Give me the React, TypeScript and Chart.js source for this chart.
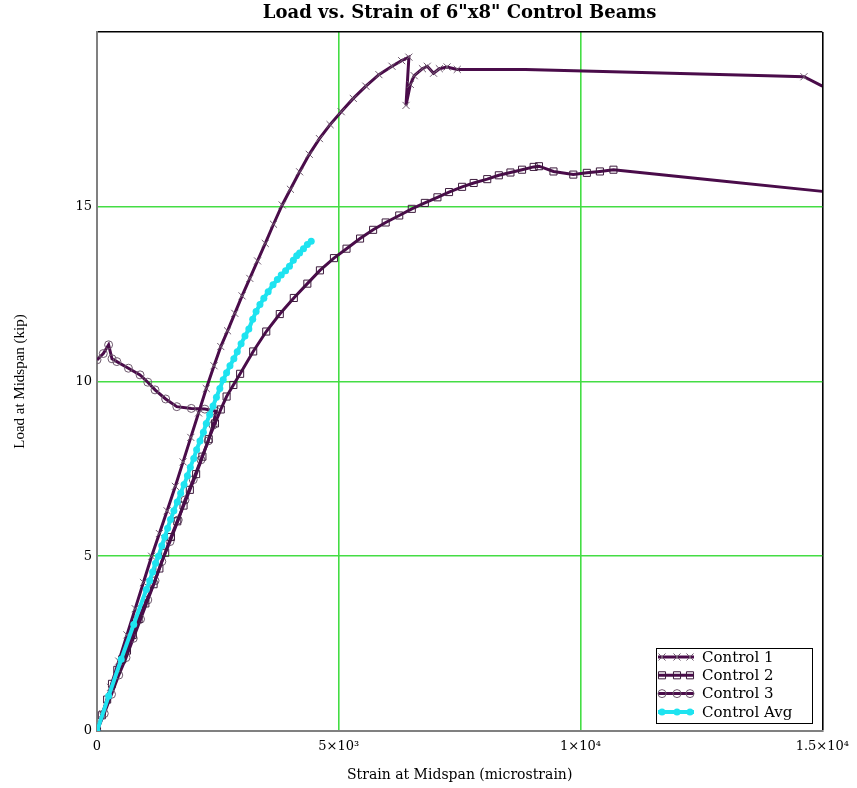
import React, { useEffect, useRef } from 'react';
import { Chart, registerables } from 'chart.js';
import { drawPoint } from 'chart.js/helpers';

Chart.register(...registerables);

const TITLE = 'Load vs. Strain of 6"x8" Control Beams';
const X_LABEL = 'Strain at Midspan (microstrain)';
const Y_LABEL = 'Load at Midspan (kip)';
const X_TICK_VALUES = [0, 5000, 10000, 15000];
const X_TICK_LABELS = ['0', '5×10³', '1×10⁴', '1.5×10⁴'];
const Y_TICK_VALUES = [0, 5, 10, 15, 20];
const Y_TICK_LABELS = ['0', '5', '10', '15', ''];

const SERIES_LABELS = ['Control 1', 'Control 2', 'Control 3', 'Control Avg'];

// Control 1 (strain in microstrain, load in kip)
const c1Strain = [0, 120, 280, 450, 620, 790, 960, 1130, 1290, 1450, 1620, 1780, 1940, 2100, 2260, 2420, 2560, 2700, 2850, 3000, 3160, 3320, 3480, 3650, 3830, 4000, 4190, 4390, 4600, 4820, 5050, 5300, 5560, 5830, 6100, 6300, 6450, 6390, 6480, 6560, 6730, 6830, 6960, 7080, 7240, 7450, 8860, 13870, 14620, 15000];
const c1Load = [0, 0.5, 1.25, 2.0, 2.75, 3.5, 4.25, 5.0, 5.65, 6.3, 7.0, 7.7, 8.4, 9.1, 9.8, 10.45, 11.0, 11.45, 11.95, 12.45, 12.95, 13.45, 13.95, 14.5, 15.05, 15.5, 16.0, 16.5, 16.95, 17.35, 17.72, 18.1, 18.45, 18.78, 19.02, 19.18, 19.28, 17.9, 18.5, 18.75, 18.95, 19.02, 18.82, 18.95, 19.0, 18.93, 18.93, 18.75, 18.72, 18.45];
// markers are shown only where the original plot shows them
const c1Marked = c1Strain.map((s) => s !== 8860 && s !== 13870 && s !== 15000);

// Control 2
const c2Strain = [0, 100, 210, 310, 420, 520, 620, 740, 860, 1000, 1170, 1290, 1410, 1530, 1660, 1790, 1920, 2050, 2180, 2310, 2440, 2560, 2680, 2820, 2960, 3230, 3500, 3780, 4070, 4350, 4610, 4900, 5160, 5440, 5710, 5970, 6250, 6510, 6780, 7040, 7280, 7550, 7790, 8070, 8310, 8550, 8790, 9030, 9140, 9440, 9850, 10130, 10400, 10680, 12570, 15000];
const c2Load = [0, 0.45, 0.9, 1.35, 1.75, 2.05, 2.3, 2.75, 3.2, 3.65, 4.2, 4.65, 5.1, 5.55, 6.0, 6.45, 6.9, 7.35, 7.85, 8.35, 8.8, 9.2, 9.57, 9.9, 10.22, 10.86, 11.43, 11.93, 12.39, 12.8, 13.18, 13.53, 13.8, 14.09, 14.34, 14.55, 14.75, 14.94, 15.11, 15.27, 15.42, 15.57, 15.68, 15.79, 15.9, 15.98, 16.06, 16.14, 16.16, 16.01, 15.92, 15.97, 16.01, 16.06, 15.79, 15.44];
const c2Marked = c2Strain.map((s) => s !== 12570 && s !== 15000);

// Control 3 (strain reading reverses after ~9.2 kip)
const c3Strain = [0, 150, 300, 450, 600, 750, 900, 1050, 1200, 1340, 1510, 1680, 1820, 1990, 2150, 2300, 2400, 2460, 2230, 1950, 1650, 1420, 1200, 1050, 890, 650, 410, 310, 240, 130, 0];
const c3Load = [0, 0.5, 1.05, 1.6, 2.1, 2.65, 3.2, 3.75, 4.3, 4.85, 5.42, 6.04, 6.61, 7.19, 7.76, 8.3, 8.75, 9.15, 9.21, 9.23, 9.28, 9.5, 9.76, 9.98, 10.19, 10.38, 10.57, 10.65, 11.05, 10.8, 10.62];

// Control Avg
const avgStrain = [0, 240, 500, 760, 1020, 1090, 1150, 1210, 1270, 1340, 1400, 1460, 1520, 1590, 1660, 1730, 1800, 1870, 1930, 2000, 2060, 2130, 2200, 2260, 2330, 2400, 2470, 2540, 2610, 2680, 2750, 2830, 2900, 2980, 3060, 3140, 3220, 3290, 3370, 3450, 3540, 3640, 3730, 3810, 3900, 3980, 4060, 4130, 4190, 4270, 4350, 4430];
const avgLoad = [0, 1.0, 2.05, 3.05, 4.05, 4.3, 4.55, 4.8, 5.0, 5.3, 5.55, 5.8, 6.05, 6.3, 6.55, 6.8, 7.05, 7.3, 7.55, 7.8, 8.05, 8.3, 8.55, 8.8, 9.05, 9.3, 9.55, 9.8, 10.05, 10.25, 10.45, 10.65, 10.85, 11.08, 11.3, 11.5, 11.78, 12.0, 12.2, 12.38, 12.57, 12.77, 12.92, 13.05, 13.17, 13.3, 13.47, 13.6, 13.68, 13.8, 13.92, 14.01];

const PURPLE = '#4a0c4a';
const MARK = '#6e5a6e';
const CYAN = '#1ee3f0';
const GREEN = '#44dd44';

const toPts = (xs: number[], ys: number[]) => xs.map((x, i) => ({ x, y: ys[i] }));

const boxLegend = {
  id: 'boxLegend',
  afterDraw(chart: any) {
    const ctx = chart.ctx as CanvasRenderingContext2D;
    const L = 656, T = 648, W = 156, H = 75;
    ctx.save();
    ctx.fillStyle = '#ffffff';
    ctx.fillRect(L, T, W, H);
    ctx.strokeStyle = '#000000';
    ctx.lineWidth = 1;
    ctx.strokeRect(L + 0.5, T + 0.5, W, H);
    chart.data.datasets.forEach((ds: any, i: number) => {
      const y = T + 9 + i * 18.3;
      ctx.strokeStyle = ds.borderColor;
      ctx.lineWidth = ds.borderWidth;
      ctx.beginPath();
      ctx.moveTo(L + 2, y);
      ctx.lineTo(L + 38, y);
      ctx.stroke();
      [L + 6, L + 21, L + 34].forEach((px) => {
        ctx.strokeStyle = ds.pointBorderColor;
        ctx.fillStyle = ds.pointBackgroundColor;
        ctx.lineWidth = ds.pointBorderWidth;
        drawPoint(ctx, { pointStyle: ds.pointStyle, radius: ds.legendRadius, rotation: 0, borderWidth: ds.pointBorderWidth } as any, px, y);
      });
      ctx.fillStyle = '#000000';
      ctx.font = '15px "DejaVu Serif"';
      ctx.textBaseline = 'middle';
      ctx.textAlign = 'left';
      ctx.fillText(ds.label, L + 46, y + 1);
    });
    ctx.restore();
  },
};

export default function App() {
  const ref = useRef<HTMLCanvasElement | null>(null);

  useEffect(() => {
    if (!ref.current) return;
    const chart = new Chart(ref.current, {
      type: 'scatter',
      data: {
        datasets: [
          {
            label: SERIES_LABELS[0],
            data: toPts(c1Strain, c1Load),
            showLine: true,
            borderColor: PURPLE,
            borderWidth: 3,
            pointStyle: 'crossRot',
            pointRadius: (c: any) => (c1Marked[c.dataIndex] ? 5 : 0),
            legendRadius: 5,
            pointBorderColor: MARK,
            pointBorderWidth: 1,
            pointBackgroundColor: 'rgba(0,0,0,0)',
            order: 1,
          },
          {
            label: SERIES_LABELS[1],
            data: toPts(c2Strain, c2Load),
            showLine: true,
            borderColor: PURPLE,
            borderWidth: 3,
            pointStyle: 'rect',
            pointRadius: (c: any) => (c2Marked[c.dataIndex] ? 5 : 0),
            legendRadius: 5,
            pointBorderColor: '#3c1a3c',
            pointBorderWidth: 1,
            pointBackgroundColor: 'rgba(0,0,0,0)',
            order: 2,
          },
          {
            label: SERIES_LABELS[2],
            data: toPts(c3Strain, c3Load),
            showLine: true,
            borderColor: PURPLE,
            borderWidth: 3,
            pointStyle: 'circle',
            pointRadius: 4,
            legendRadius: 4,
            pointBorderColor: MARK,
            pointBorderWidth: 1,
            pointBackgroundColor: 'rgba(0,0,0,0)',
            order: 3,
          },
          {
            label: SERIES_LABELS[3],
            data: toPts(avgStrain, avgLoad),
            showLine: true,
            borderColor: CYAN,
            borderWidth: 4,
            pointStyle: 'circle',
            pointRadius: 3.5,
            legendRadius: 3.5,
            pointBorderColor: CYAN,
            pointBorderWidth: 0,
            pointBackgroundColor: CYAN,
            order: 0,
          },
        ] as any,
      },
      options: {
        responsive: false,
        animation: false,
        events: [],
        layout: { padding: { left: 0, right: 32, top: 0, bottom: 0 } },
        plugins: {
          legend: { display: false },
          tooltip: { enabled: false },
          title: {
            display: true,
            text: TITLE,
            fullSize: false,
            color: '#000000',
            font: { family: '"DejaVu Serif"', size: 18, weight: 'bold', lineHeight: 1.2 },
            padding: { top: 3, bottom: 7.4 },
          },
        },
        scales: {
          x: {
            type: 'linear',
            min: 0,
            max: 15000,
            afterFit: (s: any) => { s.height = 57; },
            afterBuildTicks: (s: any) => { s.ticks = X_TICK_VALUES.map((v) => ({ value: v })); },
            ticks: {
              autoSkip: false,
              maxRotation: 0,
              padding: 8,
              color: '#000000',
              font: { family: '"DejaVu Serif"', size: 13 },
              callback: (v: any) => { const i = X_TICK_VALUES.indexOf(Number(v)); return i >= 0 ? X_TICK_LABELS[i] : ''; },
            },
            grid: {
              drawTicks: false,
              color: (c: any) => (c.tick && c.tick.value === 0 ? 'rgba(0,0,0,0)' : c.tick && c.tick.value === 15000 ? '#000000' : GREEN),
              lineWidth: 1.6,
            },
            border: { color: '#808080', width: 2 },
            title: {
              display: true,
              text: X_LABEL,
              color: '#000000',
              font: { family: '"DejaVu Serif"', size: 14, lineHeight: 1.2 },
              padding: { top: 0, bottom: 4.6 },
            },
          },
          y: {
            type: 'linear',
            min: 0,
            max: 20,
            afterFit: (s: any) => { s.width = 97; },
            afterBuildTicks: (s: any) => { s.ticks = Y_TICK_VALUES.map((v) => ({ value: v })); },
            ticks: {
              autoSkip: false,
              padding: 5,
              color: '#000000',
              font: { family: '"DejaVu Serif"', size: 13 },
              callback: (v: any) => { const i = Y_TICK_VALUES.indexOf(Number(v)); return i >= 0 ? Y_TICK_LABELS[i] : ''; },
            },
            grid: {
              drawTicks: false,
              color: (c: any) => (c.tick && c.tick.value === 0 ? 'rgba(0,0,0,0)' : c.tick && c.tick.value === 20 ? '#000000' : GREEN),
              lineWidth: 1.6,
            },
            border: { color: '#808080', width: 2 },
            title: {
              display: true,
              text: Y_LABEL,
              color: '#000000',
              font: { family: '"Liberation Serif"', size: 15, lineHeight: 1.2 },
              padding: { top: 11, bottom: 0 },
            },
          },
        },
      } as any,
      plugins: [boxLegend],
    });
    return () => chart.destroy();
  }, []);

  return (
    <div style={{ position: 'fixed', left: 0, top: 0, width: 857, height: 788, background: '#ffffff' }}>
      <canvas ref={ref} width={857} height={788} style={{ display: 'block', width: 857, height: 788 }} />
    </div>
  );
}
